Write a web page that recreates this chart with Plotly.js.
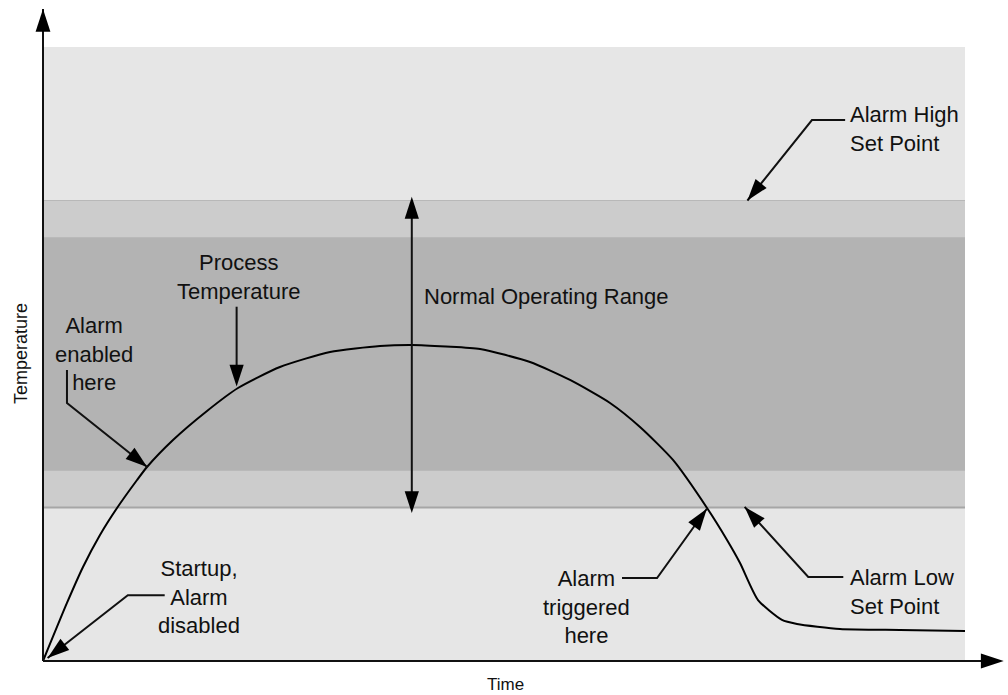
<!DOCTYPE html>
<html>
<head>
<meta charset="utf-8">
<script src="https://cdn.plot.ly/plotly-3.0.1.min.js"></script>
<style>
body { margin: 0; background: #fff; }
#chart { width: 1008px; height: 695px; }
</style>
</head>
<body>
<div id="chart"></div>
<script>
// Process temperature over time (arbitrary units, 0-100 on both axes)
const time = [0, 2.60, 4.34, 6.18, 8.03, 10.20, 11.28, 14.10, 17.79, 21.15, 25.70, 31.13, 36.55,
              40.02, 43.71, 47.40, 52.82, 57.16, 61.50, 64.75, 68.33, 72.02, 74.19, 75.60, 77.55,
              80.15, 81.78, 86.44, 92.95, 100];
const temp = [0, 9.45, 15.31, 20.52, 24.92, 29.48, 31.60, 35.99, 40.72, 44.46, 47.88, 50.33, 51.30,
              51.47, 51.22, 50.81, 48.70, 45.77, 42.02, 38.11, 32.74, 24.92, 19.71, 15.96, 9.93,
              6.68, 6.03, 5.21, 5.05, 4.89];

// set points and bands
const alarmHigh = 75;
const alarmLow = 25;
const normalTop = 69;
const normalBottom = 31;
const fullScale = 100;

// callout texts
const labelText = ["Alarm High<br>Set Point", "Process<br>Temperature", "Alarm<br>enabled<br>here",
                   "Normal Operating Range", "Startup,<br>Alarm<br>disabled", "Alarm<br>triggered<br>here",
                   "Alarm Low<br>Set Point"];
const labelX = [87.3, 21.3, 5.5, 41.1, 16.9, 59.0, 87.3];
const labelY = [86.6, 62.6, 50.0, 59.3, 10.4, 8.8, 11.2];
const labelAlign = ["left", "center", "center", "left", "center", "center", "left"];

// leader lines for the callouts, the last point is where the arrow points
const leaderX = [[87.0, 83.4, 76.4], [21.0, 21.0], [2.6, 2.6, 11.3], [40.0, 40.0], [40.0, 40.0],
                 [13.2, 9.2, 0.5], [62.8, 66.6, 72.0], [86.8, 83.0, 76.1]];
const leaderY = [[88.1, 88.1, 75.0], [57.7, 44.7], [47.4, 42.0, 31.6], [50, 75.6], [50, 24.1],
                 [10.7, 10.7, 0.5], [13.5, 13.5, 24.8], [13.7, 13.7, 25.1]];

// axis arrows
const axisX = [[0, 0], [0, 104.2]];
const axisY = [[0, 106.2], [0, 0]];

const font = "Liberation Sans, Arial, sans-serif";
const ink = "#111";

var traces = [];

traces.push({
    x: time,
    y: temp,
    type: "scatter",
    mode: "lines",
    line: {color: "#000", width: 2, shape: "spline", smoothing: 0.6},
    hoverinfo: "skip"
});

function arrowTrace(xs, ys, size){
    // only the last point gets a (filled) arrow head
    var sizes = xs.map(function(v, i){ return i === xs.length - 1 ? size : 0; });
    return {
        x: xs,
        y: ys,
        type: "scatter",
        mode: "lines+markers",
        line: {color: ink, width: 2},
        marker: {symbol: "arrow", angleref: "previous", size: sizes, opacity: 1,
                 color: "#000", line: {width: 0}},
        cliponaxis: false,
        hoverinfo: "skip"
    };
}

for(var i = 0; i < leaderX.length; i++){
    traces.push(arrowTrace(leaderX[i], leaderY[i], 23));
}
for(var j = 0; j < axisX.length; j++){
    traces.push(arrowTrace(axisX[j], axisY[j], 24));
}

// background bands
var shapes = [
    {type: "rect", layer: "below", x0: 0, x1: fullScale, y0: 0, y1: fullScale, fillcolor: "#e6e6e6", line: {width: 0}},
    {type: "rect", layer: "below", x0: 0, x1: fullScale, y0: alarmLow, y1: alarmHigh, fillcolor: "#cccccc", line: {width: 0}},
    {type: "rect", layer: "below", x0: 0, x1: fullScale, y0: normalBottom, y1: normalTop, fillcolor: "#b3b3b3", line: {width: 0}},
    {type: "line", layer: "below", x0: 0, x1: fullScale, y0: alarmHigh, y1: alarmHigh, line: {color: "#b8b8b8", width: 1}},
    {type: "line", layer: "below", x0: 0, x1: fullScale, y0: alarmLow, y1: alarmLow, line: {color: "#a6a6a6", width: 2}}
];

var annotations = [];
for(var k = 0; k < labelText.length; k++){
    annotations.push({
        x: labelX[k], y: labelY[k], xref: "x", yref: "y",
        text: labelText[k],
        showarrow: false,
        xanchor: labelAlign[k] === "left" ? "left" : "center",
        yanchor: "middle",
        align: labelAlign[k],
        font: {family: font, size: 22, color: ink}
    });
}
// axis titles (paper coordinates, they sit outside the axis ranges)
annotations.push({x: -0.0092, y: 0.4756, xref: "paper", yref: "paper", text: "Temperature", textangle: -90,
    xanchor: "center", yanchor: "middle",
    showarrow: false, font: {family: font, size: 18, color: ink}});
annotations.push({x: 0.4857, y: -0.0148, xref: "paper", yref: "paper", text: "Time",
    xanchor: "center", yanchor: "middle",
    showarrow: false, font: {family: font, size: 17, color: ink}});

const layout = {
    width: 1008,
    height: 695,
    margin: {l: 30, r: 0, t: 0, b: 20},
    paper_bgcolor: "#fff",
    plot_bgcolor: "#fff",
    showlegend: false,
    xaxis: {range: [-13 / 9.22, 965 / 9.22], visible: false, fixedrange: true},
    yaxis: {range: [-14 / 6.14, 661 / 6.14], visible: false, fixedrange: true},
    shapes: shapes,
    annotations: annotations
};

Plotly.newPlot("chart", traces, layout, {staticPlot: true, displayModeBar: false});
</script>
</body>
</html>
